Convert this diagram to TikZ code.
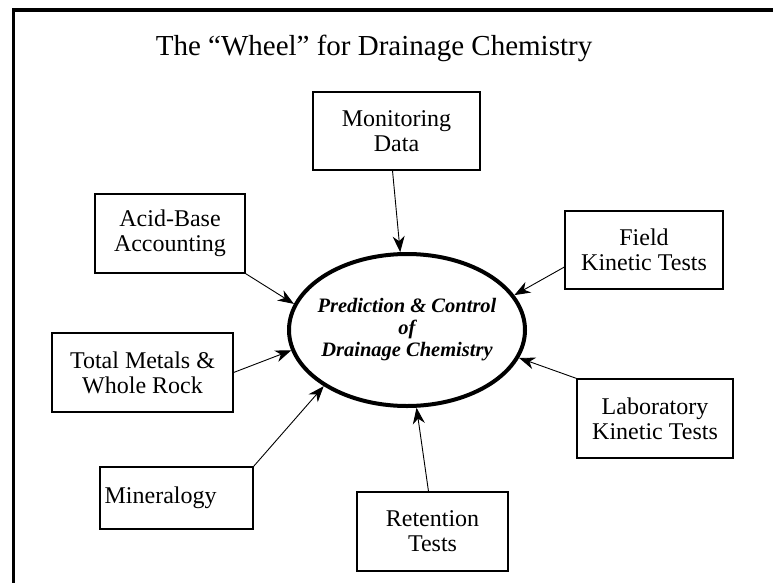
\documentclass[tikz,border=0pt]{standalone}
\usepackage{fontspec}
\setmainfont{Liberation Serif}
\usetikzlibrary{arrows.meta,shapes.geometric,calc}
\begin{document}
\begin{tikzpicture}[x=1pt,y=-1pt,
  box/.style={draw, line width=1.2pt, inner sep=0pt, align=center, font=\fontsize{24}{25}\selectfont},
  arr/.style={line width=0.9pt, -{Stealth[length=16pt,width=12pt,inset=5pt]}},
  lbl/.style={inner sep=0pt, font=\fontsize{24}{25}\selectfont}
]
\useasboundingbox (0,0) rectangle (773,583);
% frame
\draw[line width=3.5pt] (773,10) -- (13.5,10) -- (13.5,583);
% title
\node[inner sep=0pt, font=\fontsize{29}{31}\selectfont] (title) at (374,48) {The “Wheel” for Drainage Chemistry};
% centre
\node[ellipse, draw, line width=4pt, minimum width=236pt, minimum height=152pt, inner sep=0pt] (ell) at (407,330) {};
\node[inner sep=0pt, align=center, font=\fontsize{20.5}{22}\selectfont\bfseries\itshape] (elltext) at (ell.center) {Prediction \& Control\\of\\Drainage Chemistry};
% boxes
\node[box, minimum width=167pt, minimum height=78pt] (mon) at (396.5,131) {Monitoring\\Data};
\node[box, minimum width=150pt, minimum height=79pt] (acid) at (170,233.5) {Acid-Base\\Accounting};
\node[box, minimum width=181pt, minimum height=79pt] (tm) at (142.5,372.5) {Total Metals \&\\Whole Rock};
\node[box, minimum width=153pt, minimum height=62pt] (min) at (176.5,498) {};
\node[lbl, anchor=west] (mintext) at ($(min.west)+(5,0)$) {Mineralogy};
\node[box, minimum width=151pt, minimum height=79pt] (ret) at (432.5,531.5) {Retention\\Tests};
\node[box, minimum width=156pt, minimum height=79pt] (lab) at (655,418.5) {Laboratory\\Kinetic Tests};
\node[box, minimum width=158pt, minimum height=78pt] (fld) at (644,250) {Field\\Kinetic Tests};
% arrows
\draw[arr] ($(mon.south)+(-4,0)$) -- (ell.95);
\draw[arr] (acid.south east) -- (ell.167.8);
\draw[arr] (tm.east) -- (ell.190.8);
\draw[arr] (min.north east) -- (ell.214.6);
\draw[arr] ($(ret.north)+(-4,0)$) -- (ell.277.8);
\draw[arr] (lab.north west) -- (ell.346);
\draw[arr] ($(fld.west)+(0,17)$) -- (ell.18.7);
\end{tikzpicture}
\end{document}
